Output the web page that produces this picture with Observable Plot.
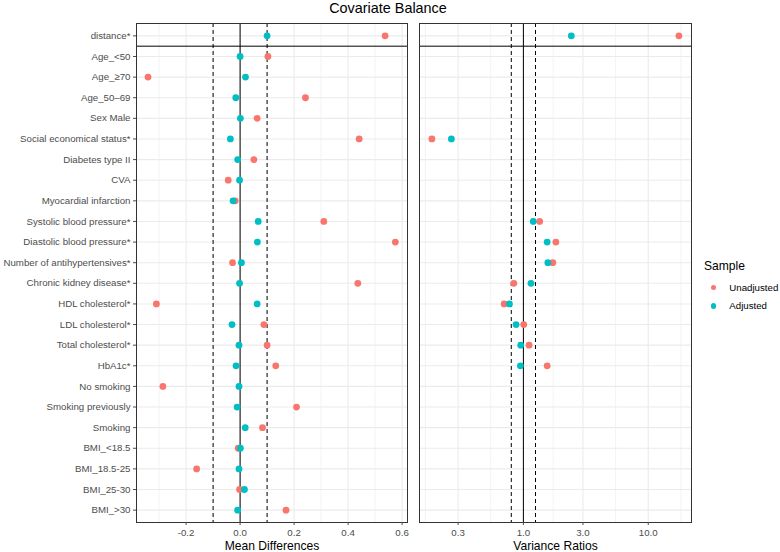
<!DOCTYPE html>
<html>
<head>
<meta charset="utf-8">
<script src="https://cdn.jsdelivr.net/npm/d3@7"></script>
<script src="https://cdn.jsdelivr.net/npm/@observablehq/plot@0.6"></script>
<style>
  body { margin: 0; background: #fff; font-family: "Liberation Sans", Arial, Helvetica, sans-serif; }
  #chart { position: relative; width: 780px; height: 552px; overflow: hidden; background: #fff; }
  .panel { position: absolute; top: 20px; }
  .title { position: absolute; top: 0; left: 0; width: 776px; text-align: center; font-size: 14.4px; line-height: 16px; color: #000; }
  .legend-title { position: absolute; left: 704px; top: 258px; font-size: 12.1px; line-height: 16px; color: #000; }
  .legend-item { position: absolute; left: 709px; font-size: 9.7px; line-height: 12px; color: #000; white-space: nowrap; }
  .legend-item .key { position: absolute; left: 1.6px; top: 3.3px; width: 5.4px; height: 5.4px; border-radius: 50%; }
  .legend-item .lab { position: absolute; left: 20.3px; top: 0; }
</style>
</head>
<body>
<div id="chart">
  <div class="title">Covariate Balance</div>
</div>
<script>
// Covariates, top to bottom
const covariates = [
  "distance*", "Age_<50", "Age_≥70", "Age_50–69", "Sex Male",
  "Social economical status*", "Diabetes type II", "CVA", "Myocardial infarction",
  "Systolic blood pressure*", "Diastolic blood pressure*", "Number of antihypertensives*",
  "Chronic kidney disease*", "HDL cholesterol*", "LDL cholesterol*", "Total cholesterol*",
  "HbA1c*", "No smoking", "Smoking previously", "Smoking",
  "BMI_<18.5", "BMI_18.5-25", "BMI_25-30", "BMI_>30"
];

// Mean differences
const diffUnadjusted = [
  0.537, 0.103, -0.341, 0.242, 0.063,
  0.441, 0.051, -0.044, -0.018,
  0.310, 0.575, -0.028,
  0.436, -0.310, 0.088, 0.100,
  0.132, -0.286, 0.209, 0.083,
  -0.007, -0.161, -0.002, 0.170
];
const diffAdjusted = [
  0.100, 0.000, 0.020, -0.016, 0.001,
  -0.036, -0.009, -0.002, -0.026,
  0.067, 0.064, 0.005,
  -0.002, 0.063, -0.030, -0.004,
  -0.015, -0.004, -0.011, 0.019,
  0.001, -0.004, 0.016, -0.009
];

// Variance ratios (continuous covariates only)
const ratioUnadjusted = [
  17.6, null, null, null, null,
  0.185, null, null, null,
  1.35, 1.82, 1.72,
  0.838, 0.701, 1.006, 1.11,
  1.55, null, null, null,
  null, null, null, null
];
const ratioAdjusted = [
  2.42, null, null, null, null,
  0.265, null, null, null,
  1.20, 1.55, 1.57,
  1.15, 0.773, 0.874, 0.952,
  0.946, null, null, null,
  null, null, null, null
];

const samples = ["Unadjusted", "Adjusted"];
const sampleColors = ["#F8766D", "#00BFC4"];

// Axis ticks and grid
const diffTicks = [-0.2, 0, 0.2, 0.4, 0.6];
const diffMinor = [-0.3, -0.1, 0.1, 0.3, 0.5];
const diffThresholds = [-0.1, 0.1];
const ratioTicks = [0.3, 1, 3, 10];
const ratioMinor = [0.164, 0.548, 1.732, 5.477, 18.25];
const ratioThresholds = [0.8, 1.25];

// Long table: unadjusted first so adjusted points sit on top
const rows = [];
samples.forEach((s, k) => {
  covariates.forEach((c, i) => {
    rows.push({
      covariate: c,
      sample: s,
      diff: k === 0 ? diffUnadjusted[i] : diffAdjusted[i],
      ratio: k === 0 ? ratioUnadjusted[i] : ratioAdjusted[i]
    });
  });
});

const H = 532, MT = 3, MB = 30, PAD = 0.6;
const rowStep = (H - MT - MB) / (covariates.length - 1 + 2 * PAD);
const fmt1 = d => d.toFixed(1);
const gridMajor = { stroke: "#EBEBEB", strokeWidth: 1.1 };
const gridMinor = { stroke: "#EBEBEB", strokeWidth: 0.6 };
const baseStyle = {
  fontFamily: '"Liberation Sans", Arial, Helvetica, sans-serif',
  fontSize: "9.7px",
  color: "#4D4D4D",
  background: "transparent",
  overflow: "visible"
};
const yScale = { type: "point", domain: covariates, padding: PAD, round: false };
const colorScale = { domain: samples, range: sampleColors };

const left = Plot.plot({
  width: 410, height: H,
  marginLeft: 136, marginRight: 3, marginTop: MT, marginBottom: MB,
  style: baseStyle,
  x: { domain: [-0.3837, 0.62] },
  y: yScale,
  color: colorScale,
  marks: [
    Plot.ruleX(diffMinor, gridMinor),
    Plot.ruleX(diffTicks, gridMajor),
    Plot.ruleY(covariates, gridMajor),
    Plot.ruleX(diffThresholds, { stroke: "#000", strokeWidth: 1, strokeDasharray: "4,3" }),
    Plot.ruleX([0], { stroke: "#000", strokeWidth: 1 }),
    Plot.ruleY([covariates[0]], { stroke: "#000", strokeWidth: 1, dy: rowStep / 2 }),
    Plot.dot(rows, { x: "diff", y: "covariate", fill: "sample", r: 3.4 }),
    Plot.frame({ stroke: "#333333", strokeWidth: 1 }),
    Plot.axisX({ ticks: diffTicks, tickFormat: fmt1, tickSize: 3, tickPadding: 4, label: null }),
    Plot.axisY({ tickSize: 3, tickPadding: 3, label: null }),
    Plot.text(["Mean Differences"], {
      text: d => d, frameAnchor: "bottom", lineAnchor: "middle",
      dy: 23.2, fontSize: 12.1, fill: "#000"
    })
  ]
});

const right = Plot.plot({
  width: 285, height: H,
  marginLeft: 9, marginRight: 4, marginTop: MT, marginBottom: MB,
  style: baseStyle,
  x: { type: "log", domain: [0.1472, 22.2] },
  y: { ...yScale, axis: null },
  color: colorScale,
  marks: [
    Plot.ruleX(ratioMinor, gridMinor),
    Plot.ruleX(ratioTicks, gridMajor),
    Plot.ruleY(covariates, gridMajor),
    Plot.ruleX(ratioThresholds, { stroke: "#000", strokeWidth: 1, strokeDasharray: "4,3" }),
    Plot.ruleX([1], { stroke: "#000", strokeWidth: 1 }),
    Plot.ruleY([covariates[0]], { stroke: "#000", strokeWidth: 1, dy: rowStep / 2 }),
    Plot.dot(rows.filter(d => d.ratio != null), { x: "ratio", y: "covariate", fill: "sample", r: 3.4 }),
    Plot.frame({ stroke: "#333333", strokeWidth: 1 }),
    Plot.axisX({ ticks: ratioTicks, tickFormat: fmt1, tickSize: 3, tickPadding: 4, label: null }),
    Plot.text(["Variance Ratios"], {
      text: d => d, frameAnchor: "bottom", lineAnchor: "middle",
      dy: 23.2, fontSize: 12.1, fill: "#000"
    })
  ]
});

const chart = document.getElementById("chart");
[[left, 0], [right, 410]].forEach(([svg, x]) => {
  const wrap = document.createElement("div");
  wrap.className = "panel";
  wrap.style.left = x + "px";
  wrap.appendChild(svg);
  chart.appendChild(wrap);
});

// Legend
const legendTitle = document.createElement("div");
legendTitle.className = "legend-title";
legendTitle.textContent = "Sample";
chart.appendChild(legendTitle);
const legendTops = [281.7, 300];
samples.forEach((s, i) => {
  const item = document.createElement("div");
  item.className = "legend-item";
  item.style.top = legendTops[i] + "px";
  const key = document.createElement("span");
  key.className = "key";
  key.style.background = sampleColors[i];
  const lab = document.createElement("span");
  lab.className = "lab";
  lab.textContent = s;
  item.appendChild(key);
  item.appendChild(lab);
  chart.appendChild(item);
});
</script>
</body>
</html>
